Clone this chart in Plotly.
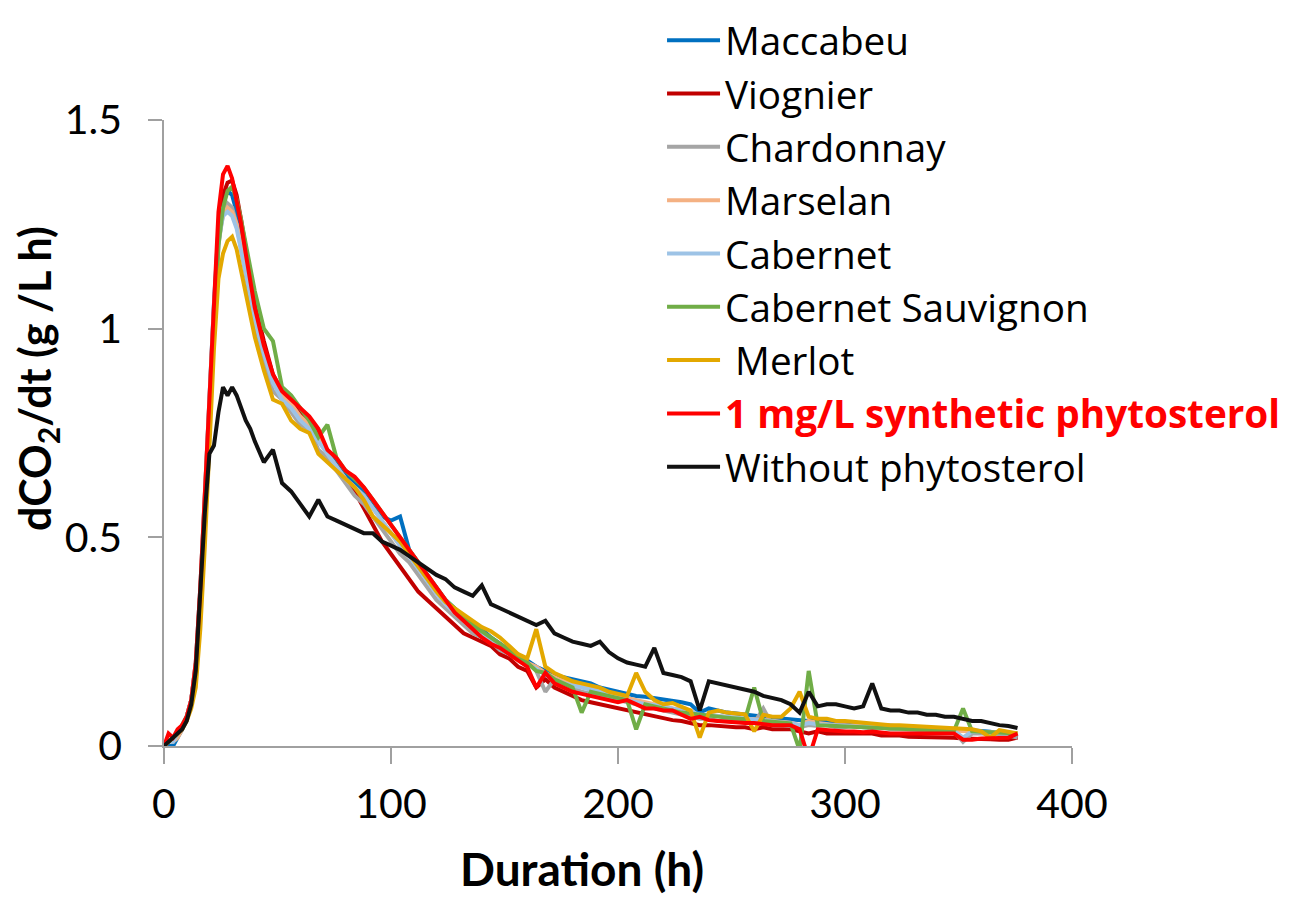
import plotly.graph_objects as go

hours = [0, 2, 4, 6, 8, 10, 12, 14, 16, 18, 20, 22, 24, 26, 28, 30, 32, 34, 36, 38, 40,
         44, 48, 52, 56, 60, 64, 68, 72, 76, 80,
         84, 88, 92, 96, 100, 104, 108, 112, 116, 120,
         124, 128, 132, 136, 140, 144, 148, 152, 156, 160,
         164, 168, 172, 176, 180, 184, 188, 192, 196, 200,
         204, 208, 212, 216, 220, 224, 228, 232, 236, 240,
         244, 248, 252, 256, 260, 264, 268, 272, 276, 280,
         284, 288, 292, 296, 300, 304, 308, 312, 316, 320,
         324, 328, 332, 336, 340, 344, 348, 352, 356, 360,
         364, 368, 372, 376]

maccabeu = [0, 0.0, 0.0, 0.02, 0.04, 0.07, 0.11, 0.20, 0.38, 0.60, 0.84, 1.06, 1.24, 1.31, 1.33, 1.32, 1.28, 1.22, 1.16, 1.10, 1.04,
            0.96, 0.88, 0.84, 0.82, 0.79, 0.77, 0.74, 0.70, 0.68, 0.65,
            0.63, 0.61, 0.58, 0.55, 0.54, 0.55, 0.47, 0.44, 0.41, 0.38,
            0.35, 0.33, 0.31, 0.29, 0.28, 0.26, 0.245, 0.23, 0.215, 0.205,
            0.19, 0.18, 0.17, 0.165, 0.16, 0.155, 0.15, 0.14, 0.135, 0.13,
            0.125, 0.12, 0.118, 0.115, 0.112, 0.11, 0.105, 0.10, 0.08, 0.09,
            0.085, 0.08, 0.078, 0.075, 0.072, 0.07, 0.068, 0.066, 0.064, 0.06,
            0.06, 0.06, 0.058, 0.056, 0.055, 0.054, 0.052, 0.05, 0.05, 0.048,
            0.047, 0.046, 0.045, 0.044, 0.043, 0.042, 0.04, 0.04, 0.038, 0.036,
            0.034, 0.03, 0.03, 0.02]

viognier = [0, 0.01, 0.02, 0.03, 0.05, 0.07, 0.11, 0.19, 0.37, 0.58, 0.82, 1.04, 1.22, 1.32, 1.35, 1.355, 1.32, 1.26, 1.19, 1.12, 1.06,
            0.97, 0.89, 0.85, 0.83, 0.80, 0.78, 0.75, 0.70, 0.67, 0.64,
            0.61, 0.57, 0.53, 0.49, 0.46, 0.43, 0.40, 0.37, 0.35, 0.33,
            0.31, 0.29, 0.27, 0.26, 0.25, 0.24, 0.22, 0.21, 0.19, 0.18,
            0.14, 0.16, 0.14, 0.13, 0.12, 0.11, 0.105, 0.10, 0.095, 0.09,
            0.085, 0.08, 0.075, 0.07, 0.065, 0.062, 0.06, 0.055, 0.05, 0.05,
            0.048, 0.045, 0.045, 0.045, 0.04, 0.045, 0.04, 0.04, 0.04, 0.035,
            0.03, 0.035, 0.03, 0.03, 0.03, 0.028, 0.028, 0.03, 0.025, 0.025,
            0.025, 0.022, 0.022, 0.022, 0.02, 0.02, 0.02, 0.018, 0.018, 0.016,
            0.016, 0.015, 0.015, 0.02]

chardonnay = [0, 0.01, 0.02, 0.03, 0.05, 0.07, 0.11, 0.19, 0.37, 0.58, 0.82, 1.03, 1.20, 1.28, 1.30, 1.29, 1.25, 1.19, 1.13, 1.07, 1.01,
              0.93, 0.85, 0.83, 0.80, 0.77, 0.76, 0.71, 0.69, 0.66, 0.63,
              0.60, 0.58, 0.55, 0.52, 0.49, 0.46, 0.44, 0.41, 0.38, 0.35,
              0.33, 0.31, 0.29, 0.27, 0.26, 0.25, 0.23, 0.22, 0.21, 0.20,
              0.18, 0.13, 0.16, 0.15, 0.14, 0.13, 0.125, 0.12, 0.115, 0.11,
              0.105, 0.10, 0.095, 0.09, 0.085, 0.08, 0.075, 0.07, 0.065, 0.065,
              0.06, 0.06, 0.058, 0.056, 0.055, 0.09, 0.05, 0.05, 0.048, 0.045,
              0.05, 0.048, 0.05, 0.045, 0.045, 0.05, 0.045, 0.042, 0.045, 0.04,
              0.04, 0.04, 0.04, 0.038, 0.036, 0.035, 0.035, 0.01, 0.03, 0.03,
              0.03, 0.028, 0.025, 0.02]

marselan = [0, 0.01, 0.01, 0.02, 0.04, 0.07, 0.11, 0.20, 0.38, 0.60, 0.84, 1.05, 1.22, 1.27, 1.29, 1.28, 1.25, 1.20, 1.15, 1.09, 1.03,
            0.95, 0.88, 0.84, 0.82, 0.79, 0.77, 0.74, 0.70, 0.67, 0.64,
            0.62, 0.60, 0.57, 0.54, 0.51, 0.48, 0.46, 0.43, 0.40, 0.37,
            0.34, 0.32, 0.30, 0.28, 0.27, 0.25, 0.24, 0.225, 0.21, 0.20,
            0.19, 0.175, 0.165, 0.155, 0.15, 0.145, 0.14, 0.13, 0.125, 0.12,
            0.115, 0.11, 0.105, 0.10, 0.095, 0.09, 0.088, 0.085, 0.07, 0.075,
            0.072, 0.07, 0.068, 0.066, 0.064, 0.062, 0.06, 0.058, 0.056, 0.05,
            0.06, 0.055, 0.052, 0.05, 0.05, 0.048, 0.047, 0.046, 0.045, 0.044,
            0.043, 0.042, 0.041, 0.04, 0.04, 0.038, 0.037, 0.036, 0.035, 0.034,
            0.033, 0.032, 0.03, 0.03]

cabernet = [0, 0.01, 0.01, 0.03, 0.05, 0.07, 0.11, 0.19, 0.37, 0.59, 0.83, 1.04, 1.21, 1.27, 1.28, 1.27, 1.24, 1.19, 1.14, 1.08, 1.02,
            0.94, 0.87, 0.83, 0.81, 0.78, 0.76, 0.73, 0.70, 0.67, 0.64,
            0.62, 0.60, 0.57, 0.54, 0.51, 0.48, 0.455, 0.425, 0.395, 0.365,
            0.34, 0.32, 0.30, 0.28, 0.265, 0.25, 0.235, 0.22, 0.21, 0.195,
            0.185, 0.17, 0.16, 0.15, 0.145, 0.14, 0.135, 0.13, 0.12, 0.115,
            0.11, 0.105, 0.10, 0.098, 0.095, 0.09, 0.085, 0.082, 0.075, 0.075,
            0.072, 0.07, 0.068, 0.065, 0.063, 0.06, 0.058, 0.056, 0.055, 0.05,
            0.055, 0.052, 0.05, 0.05, 0.048, 0.047, 0.046, 0.045, 0.044, 0.043,
            0.042, 0.041, 0.04, 0.04, 0.039, 0.038, 0.037, 0.02, 0.035, 0.034,
            0.033, 0.032, 0.03, 0.03]

cab_sauvignon = [0, 0.01, 0.02, 0.03, 0.05, 0.07, 0.10, 0.18, 0.35, 0.56, 0.80, 1.02, 1.20, 1.29, 1.33, 1.34, 1.31, 1.26, 1.20, 1.14, 1.09,
                 1.00, 0.97, 0.86, 0.84, 0.81, 0.78, 0.74, 0.77, 0.69, 0.66,
                 0.64, 0.62, 0.59, 0.56, 0.53, 0.50, 0.47, 0.44, 0.41, 0.38,
                 0.35, 0.33, 0.31, 0.29, 0.275, 0.26, 0.245, 0.23, 0.215, 0.20,
                 0.18, 0.175, 0.16, 0.15, 0.14, 0.08, 0.13, 0.125, 0.12, 0.115,
                 0.11, 0.04, 0.10, 0.095, 0.09, 0.085, 0.08, 0.078, 0.075, 0.072,
                 0.07, 0.068, 0.066, 0.064, 0.14, 0.06, 0.058, 0.056, 0.054, -0.01,
                 0.18, 0.05, 0.05, 0.048, 0.047, 0.046, 0.045, 0.044, 0.043, 0.042,
                 0.041, 0.04, 0.04, 0.039, 0.038, 0.037, 0.036, 0.09, 0.035, 0.034,
                 0.033, 0.032, 0.031, 0.03]

merlot = [0, 0.01, 0.02, 0.03, 0.04, 0.06, 0.09, 0.14, 0.28, 0.48, 0.72, 0.95, 1.12, 1.18, 1.21, 1.22, 1.19, 1.14, 1.09, 1.03, 0.98,
          0.90, 0.83, 0.82, 0.78, 0.76, 0.75, 0.70, 0.68, 0.66, 0.64,
          0.62, 0.59, 0.55, 0.53, 0.51, 0.49, 0.46, 0.43, 0.40, 0.37,
          0.345, 0.33, 0.315, 0.30, 0.285, 0.275, 0.26, 0.24, 0.22, 0.21,
          0.28, 0.19, 0.175, 0.165, 0.155, 0.15, 0.145, 0.14, 0.13, 0.125,
          0.12, 0.175, 0.13, 0.11, 0.10, 0.103, 0.095, 0.085, 0.02, 0.08,
          0.085, 0.08, 0.078, 0.076, 0.035, 0.075, 0.07, 0.07, 0.09, 0.13,
          0.07, 0.065, 0.065, 0.06, 0.06, 0.058, 0.055, 0.055, 0.052, 0.05,
          0.05, 0.048, 0.047, 0.046, 0.045, 0.044, 0.043, 0.04, 0.04, 0.035,
          0.02, 0.038, 0.035, 0.03]

synthetic = [0, 0.03, 0.02, 0.04, 0.05, 0.07, 0.11, 0.20, 0.38, 0.60, 0.85, 1.08, 1.28, 1.37, 1.39, 1.36, 1.31, 1.25, 1.18, 1.11, 1.05,
             0.96, 0.89, 0.85, 0.83, 0.81, 0.79, 0.76, 0.71, 0.69, 0.66,
             0.645, 0.62, 0.59, 0.56, 0.53, 0.50, 0.47, 0.44, 0.41, 0.38,
             0.35, 0.32, 0.30, 0.28, 0.26, 0.245, 0.235, 0.22, 0.205, 0.19,
             0.14, 0.175, 0.15, 0.14, 0.13, 0.125, 0.12, 0.115, 0.11, 0.105,
             0.11, 0.10, 0.09, 0.09, 0.085, 0.085, 0.075, 0.065, 0.07, 0.062,
             0.06, 0.058, 0.055, 0.055, 0.055, 0.052, 0.05, 0.05, 0.05, 0.04,
             -0.03, 0.04, 0.038, 0.038, 0.035, 0.035, 0.033, 0.035, 0.032, 0.03,
             0.03, 0.03, 0.03, 0.028, 0.03, 0.028, 0.03, 0.015, 0.015, 0.018,
             0.018, 0.02, 0.02, 0.03]

without = [0, 0.01, 0.02, 0.03, 0.04, 0.06, 0.10, 0.18, 0.36, 0.56, 0.70, 0.72, 0.80, 0.86, 0.84, 0.86, 0.84, 0.81, 0.78, 0.76, 0.73,
           0.68, 0.71, 0.63, 0.61, 0.58, 0.55, 0.59, 0.55, 0.54, 0.53,
           0.52, 0.51, 0.51, 0.49, 0.48, 0.47, 0.455, 0.44, 0.425, 0.41,
           0.40, 0.38, 0.37, 0.36, 0.385, 0.34, 0.33, 0.32, 0.31, 0.30,
           0.29, 0.30, 0.27, 0.26, 0.25, 0.245, 0.24, 0.25, 0.225, 0.21,
           0.20, 0.195, 0.19, 0.235, 0.175, 0.17, 0.165, 0.155, 0.085, 0.155,
           0.15, 0.145, 0.14, 0.135, 0.13, 0.12, 0.115, 0.11, 0.10, 0.08,
           0.13, 0.095, 0.10, 0.10, 0.095, 0.09, 0.095, 0.15, 0.09, 0.085,
           0.085, 0.08, 0.08, 0.075, 0.075, 0.07, 0.07, 0.065, 0.06, 0.06,
           0.055, 0.05, 0.048, 0.043]

series_names = ["Maccabeu", "Viognier", "Chardonnay", "Marselan", "Cabernet",
                "Cabernet Sauvignon", "\u00a0Merlot",
                "<span style='color:#FF0000'><b>1 mg/L synthetic phytosterol</b></span>",
                "Without phytosterol"]
series_values = [maccabeu, viognier, chardonnay, marselan, cabernet,
                 cab_sauvignon, merlot, synthetic, without]
series_colors = ["#0070C0", "#C00000", "#A5A5A5", "#F4B183", "#9DC3E6",
                 "#70AD47", "#E3A800", "#FF0000", "#111111"]

fig = go.Figure()
for name, vals, col in zip(series_names, series_values, series_colors):
    fig.add_trace(go.Scatter(x=hours, y=vals, mode="lines", name=name,
                             line=dict(color=col, width=4)))

axis_gray = "#A0A0A0"
fig.update_layout(
    width=1293, height=892,
    margin=dict(l=156, r=229, t=112, b=154, autoexpand=False),
    paper_bgcolor="white", plot_bgcolor="white",
    font=dict(family="Lato", color="black"),
    showlegend=True,
    legend=dict(x=0.5485, y=1.178, xanchor="left", yanchor="top",
                font=dict(family="Open Sans", size=38.7, color="black"),
                itemwidth=53,
                bgcolor="rgba(0,0,0,0)", tracegroupgap=0, maxheight=800),
    xaxis=dict(range=[0, 400], dtick=100, tick0=0, showgrid=False, zeroline=False,
               showline=True, linecolor=axis_gray, linewidth=1.5,
               ticks="outside", ticklen=16, tickcolor=axis_gray, tickwidth=1.5,
               tickfont=dict(family="Lato", size=41), ticklabelstandoff=5),
    yaxis=dict(range=[0, 1.5], dtick=0.5, tick0=0, showgrid=False, zeroline=False,
               showline=True, linecolor=axis_gray, linewidth=1.5,
               ticks="outside", ticklen=14, tickcolor=axis_gray, tickwidth=1.5,
               tickfont=dict(family="Lato", size=41), ticklabelstandoff=18),
    annotations=[
        dict(text="<b>Duration (h)</b>", xref="paper", yref="paper", x=0.4604, y=-0.1949,
             xanchor="center", yanchor="middle", showarrow=False,
             font=dict(family="Lato", size=46, color="black")),
        dict(text="<b>dCO<sub>2</sub>/dt (g /L h)</b>", xref="paper", yref="paper",
             x=-0.1388, y=0.5879, xanchor="center", yanchor="middle", showarrow=False,
             textangle=-90, font=dict(family="Lato", size=43, color="black")),
    ],
)

fig.write_html("out.html")
